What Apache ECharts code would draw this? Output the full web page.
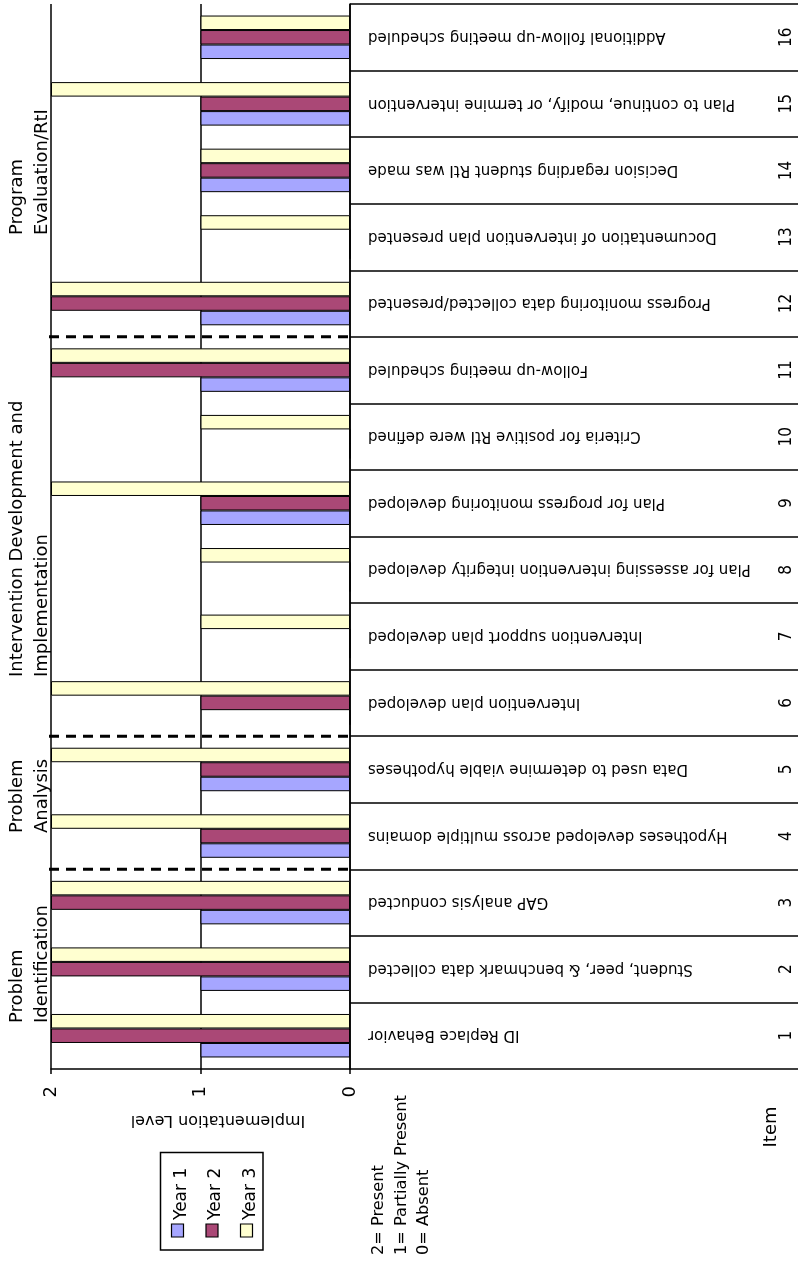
<!DOCTYPE html>
<html>
<head>
<meta charset="utf-8">
<script src="https://cdn.jsdelivr.net/npm/echarts@6/dist/echarts.min.js"></script>
<style>
html,body{margin:0;padding:0;background:#fff;}
#c{width:798px;height:1262px;}
</style>
</head>
<body>
<div id="c"></div>
<script>
// ---------- data ----------
const items = ['1','2','3','4','5','6','7','8','9','10','11','12','13','14','15','16'];
const itemLabels = [
  'ID Replace Behavior',
  'Student, peer, & benchmark data collected',
  'GAP analysis conducted',
  'Hypotheses developed across multiple domains',
  'Data used to determine viable hypotheses',
  'Intervention plan developed',
  'Intervention support plan developed',
  'Plan for assessing intervention integrity developed',
  'Plan for progress monitoring developed',
  'Criteria for positive RtI were defined',
  'Follow-up meeting scheduled',
  'Progress monitoring data collected/presented',
  'Documentation of intervention plan presented',
  'Decision regarding student RtI was made',
  'Plan to continue, modify, or termine intervention',
  'Additional follow-up meeting scheduled'
];
const year1 = [1,1,1,1,1,0,0,0,1,0,1,1,0,1,1,1];
const year2 = [2,2,2,1,1,1,0,0,1,0,2,2,0,1,1,1];
const year3 = [2,2,2,2,2,2,1,1,2,1,2,2,1,1,2,1];
const seriesNames = ['Year 1','Year 2','Year 3'];
const valueTicks = [0,1,2];
const sectionTitles = ['Problem\nIdentification','Problem\nAnalysis','Intervention Development and\nImplementation','Program\nEvaluation/RtI'];
const sectionBreaksAfter = [3,5,11];
const axisTitle = 'Implementation Level';
const categoryTitle = 'Item';
const scaleNote = '2= Present\n1= Partially Present\n0= Absent';

// ---------- style ----------
const colors = ['#a6a6ff','#aa4876','#ffffd0'];
const FONT = 'DejaVu Sans';
const CFONT = 'DejaVu Sans Condensed';

const chart = echarts.init(document.getElementById('c'));
const seriesData = [year1, year2, year3];
// draw order: Year 3 first so it sits at the top of each band, Year 1 at the bottom
const drawOrder = [2, 1, 0];

chart.setOption({
  animation: false,
  backgroundColor: '#fff',
  grid: {left: 51, right: 448, top: 4, bottom: 193, containLabel: false, outerBoundsMode: 'none'},
  xAxis: {
    type: 'value', inverse: true,
    min: valueTicks[0], max: valueTicks[valueTicks.length-1], interval: 1,
    position: 'bottom',
    axisLine: {show: true, lineStyle: {color: '#000', width: 1.5}},
    axisTick: {show: true, length: 5, lineStyle: {color: '#000', width: 1.5}},
    axisLabel: {rotate: 90, margin: 17, fontSize: 18, fontFamily: FONT, color: '#000'},
    splitLine: {show: true, lineStyle: {color: '#000', width: 1.5}}
  },
  yAxis: {
    type: 'category', data: items, position: 'right',
    axisLine: {show: true, onZero: false, lineStyle: {color: '#000', width: 1.5}},
    axisTick: {show: true, length: 448, interval: 0, lineStyle: {color: '#000', width: 1.5}},
    axisLabel: {show: true, interval: 0, rotate: 90, margin: 428, fontSize: 17, fontFamily: CFONT, color: '#000'},
    splitLine: {show: false}
  },
  series: drawOrder.map(i => ({
    name: seriesNames[i], type: 'bar', data: seriesData[i],
    barWidth: 14.5, barGap: '0%',
    itemStyle: {color: colors[i], borderColor: '#000', borderWidth: 1}
  }))
});

// ---------- annotations positioned from the axes ----------
const g = [];
const yOf = c => chart.convertToPixel({yAxisIndex: 0}, c);
const xOf = v => chart.convertToPixel({xAxisIndex: 0}, v);

items.forEach((it, i) => {
  g.push({type: 'text', x: xOf(0) + 18, y: yOf(it), rotation: Math.PI, z: 10,
    style: {text: itemLabels[i], fontSize: 16.7, fontFamily: CFONT, fill: '#000', align: 'right', verticalAlign: 'middle'}});
});

sectionBreaksAfter.forEach(k => {
  const y = (yOf(items[k-1]) + yOf(items[k])) / 2;
  g.push({type: 'line', z: 20, shape: {x1: xOf(2) - 2, y1: y, x2: xOf(0), y2: y},
    style: {stroke: '#000', lineWidth: 3, lineDash: [10, 7]}});
});

const sectionStarts = [1023, 833, 677, 235];
sectionTitles.forEach((t, i) => {
  g.push({type: 'text', x: 5, y: sectionStarts[i], rotation: Math.PI/2, z: 10,
    style: {text: t, fontSize: 18, fontFamily: FONT, fill: '#000', align: 'left', verticalAlign: 'top', lineHeight: 25}});
});

g.push({type: 'text', x: 218, y: 1120, rotation: Math.PI, z: 10,
  style: {text: axisTitle, fontSize: 16, fontFamily: FONT, fill: '#000', align: 'center', verticalAlign: 'middle'}});

g.push({type: 'text', x: 771, y: 1127, rotation: Math.PI/2, z: 10,
  style: {text: categoryTitle, fontSize: 18, fontFamily: FONT, fill: '#000', align: 'center', verticalAlign: 'middle'}});

g.push({type: 'text', x: 368, y: 1255, rotation: Math.PI/2, z: 10,
  style: {text: scaleNote, fontSize: 16.2, fontFamily: FONT, fill: '#000', align: 'left', verticalAlign: 'top', lineHeight: 22.5}});

// legend
g.push({type: 'rect', z: 10, shape: {x: 160.5, y: 1152.5, width: 102.5, height: 97.5},
  style: {fill: '#fff', stroke: '#000', lineWidth: 1.5}});
seriesNames.forEach((n, i) => {
  const cx = 177.5 + i * 34.5;
  g.push({type: 'rect', z: 11, shape: {x: cx - 6, y: 1224, width: 12, height: 13},
    style: {fill: colors[i], stroke: '#000', lineWidth: 1.2}});
  g.push({type: 'text', x: cx + 4, y: 1220, rotation: Math.PI/2, z: 11,
    style: {text: n, fontSize: 17, fontFamily: FONT, fill: '#000', align: 'left', verticalAlign: 'middle'}});
});

chart.setOption({graphic: g});
</script>
</body>
</html>
